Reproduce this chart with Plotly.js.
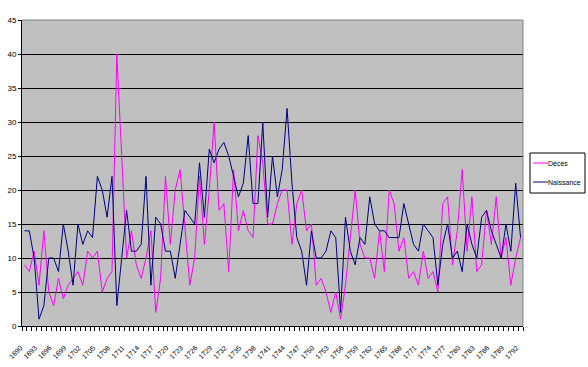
<!DOCTYPE html>
<html>
<head>
<meta charset="utf-8">
<script src="https://cdn.plot.ly/plotly-3.0.1.min.js"></script>
<style>
html,body{margin:0;padding:0;background:#fff;}
#chart{width:588px;height:367px;}
</style>
</head>
<body>
<div id="chart"></div>
<script>
var years = [1690,1691,1692,1693,1694,1695,1696,1697,1698,1699,
1700,1701,1702,1703,1704,1705,1706,1707,1708,1709,
1710,1711,1712,1713,1714,1715,1716,1717,1718,1719,
1720,1721,1722,1723,1724,1725,1726,1727,1728,1729,
1730,1731,1732,1733,1734,1735,1736,1737,1738,1739,
1740,1741,1742,1743,1744,1745,1746,1747,1748,1749,
1750,1751,1752,1753,1754,1755,1756,1757,1758,1759,
1760,1761,1762,1763,1764,1765,1766,1767,1768,1769,
1770,1771,1772,1773,1774,1775,1776,1777,1778,1779,
1780,1781,1782,1783,1784,1785,1786,1787,1788,1789,
1790,1791,1792];

var deces = [9,8,11,6,14,5,3,7,4,6,
7,8,6,11,10,11,5,7,8,40,
25,10,14,9,7,10,14,2,7,22,
12,20,23,15,6,10,22,12,20,30,
17,18,8,23,14,17,14,13,28,24,
15,15,18,20,20,12,18,20,14,15,
6,7,5,2,5,1,6,13,20,12,
10,10,7,14,8,20,18,11,13,7,
8,6,11,7,8,5,18,19,9,14,
23,11,19,8,9,17,12,19,10,13,
6,10,13];

var naissance = [14,14,10,1,3,10,10,8,15,11,
6,15,12,14,13,22,20,16,22,3,
10,17,11,11,12,22,6,16,15,11,
11,7,12,17,16,15,24,16,26,24,
26,27,25,22,19,21,28,18,18,30,
16,25,19,23,32,21,13,11,6,14,
10,10,11,14,13,2,16,11,9,13,
12,19,15,14,14,13,13,13,18,15,
12,11,15,14,13,6,12,15,10,11,
8,15,12,10,16,17,14,12,10,15,
11,21,13];

var tickYears = [1690,1693,1696,1699,1702,1705,1708,1711,1714,1717,1720,1723,1726,1729,1732,1735,1738,1741,1744,1747,1750,1753,1756,1759,1762,1765,1768,1771,1774,1777,1780,1783,1786,1789,1792];
var tickLabels = tickYears.map(String);
var yTicks = [0,5,10,15,20,25,30,35,40,45];

var seriesNames = ["Décès", "Naissance"];
var seriesColors = ["#FF00FF", "#000080"];

var FONT = "'Liberation Sans', Arial, sans-serif";

var traces = [
  {x: years, y: deces, name: seriesNames[0], type: "scatter", mode: "lines",
   line: {color: seriesColors[0], width: 1}, showlegend: false},
  {x: years, y: naissance, name: seriesNames[1], type: "scatter", mode: "lines",
   line: {color: seriesColors[1], width: 1}, showlegend: false}
];

// plot area spans 22..523 px horizontally and 20..326 px vertically
function px2x(p){ return (p - 22) / 501; }
function px2y(p){ return (326 - p) / 306; }

var shapes = [
  {type: "line", xref: "paper", yref: "paper", x0: 0, x1: 1, y0: 1, y1: 1,
   line: {color: "#808080", width: 1}, layer: "above"},
  {type: "line", xref: "paper", yref: "paper", x0: 1, x1: 1, y0: 0, y1: 1,
   line: {color: "#808080", width: 1}, layer: "above"},
  {type: "rect", xref: "paper", yref: "paper", x0: px2x(530), x1: px2x(585), y0: px2y(193), y1: px2y(153),
   line: {color: "#000", width: 1}, fillcolor: "#fff"},
  {type: "line", xref: "paper", yref: "paper", x0: px2x(533), x1: px2x(548), y0: px2y(163), y1: px2y(163),
   line: {color: seriesColors[0], width: 1}},
  {type: "line", xref: "paper", yref: "paper", x0: px2x(533), x1: px2x(548), y0: px2y(182), y1: px2y(182),
   line: {color: seriesColors[1], width: 1}}
];

var annotations = [
  {xref: "paper", yref: "paper", x: px2x(547), y: px2y(163), xanchor: "left", yanchor: "middle",
   text: seriesNames[0], showarrow: false, borderpad: 0, font: {family: FONT, size: 7, color: "#000"}},
  {xref: "paper", yref: "paper", x: px2x(547), y: px2y(182), xanchor: "left", yanchor: "middle",
   text: seriesNames[1], showarrow: false, borderpad: 0, font: {family: FONT, size: 7, color: "#000"}}
];

var layout = {
  width: 588, height: 367,
  margin: {l: 22, r: 65, t: 20, b: 41, pad: 0, autoexpand: false},
  paper_bgcolor: "#ffffff",
  plot_bgcolor: "#C0C0C0",
  showlegend: false,
  font: {family: FONT, size: 8, color: "#000"},
  xaxis: {
    type: "linear",
    range: [1689.5, 1792.5],
    tickmode: "array", tickvals: tickYears, ticktext: tickLabels,
    tickangle: -45,
    ticks: "",
    showgrid: false, zeroline: false,
    showline: true, linecolor: "#000", linewidth: 1,
    tickfont: {family: FONT, size: 7, color: "#000"},
    ticklabelstandoff: 14,
    ticklabelshift: -4,
    minor: {ticks: "outside", ticklen: 4, tickcolor: "#000", tickwidth: 1, tick0: 1689.5, dtick: 1, showgrid: false},
    fixedrange: true
  },
  yaxis: {
    range: [0, 45],
    tickmode: "array", tickvals: yTicks, ticktext: yTicks.map(String),
    ticks: "outside", ticklen: 3, tickcolor: "#000", tickwidth: 1,
    showgrid: true, gridcolor: "#000", gridwidth: 1,
    zeroline: false,
    showline: true, linecolor: "#000", linewidth: 1,
    tickfont: {family: FONT, size: 8, color: "#000"},
    fixedrange: true
  },
  shapes: shapes,
  annotations: annotations
};

Plotly.newPlot("chart", traces, layout, {displayModeBar: false, staticPlot: true});
</script>
</body>
</html>
